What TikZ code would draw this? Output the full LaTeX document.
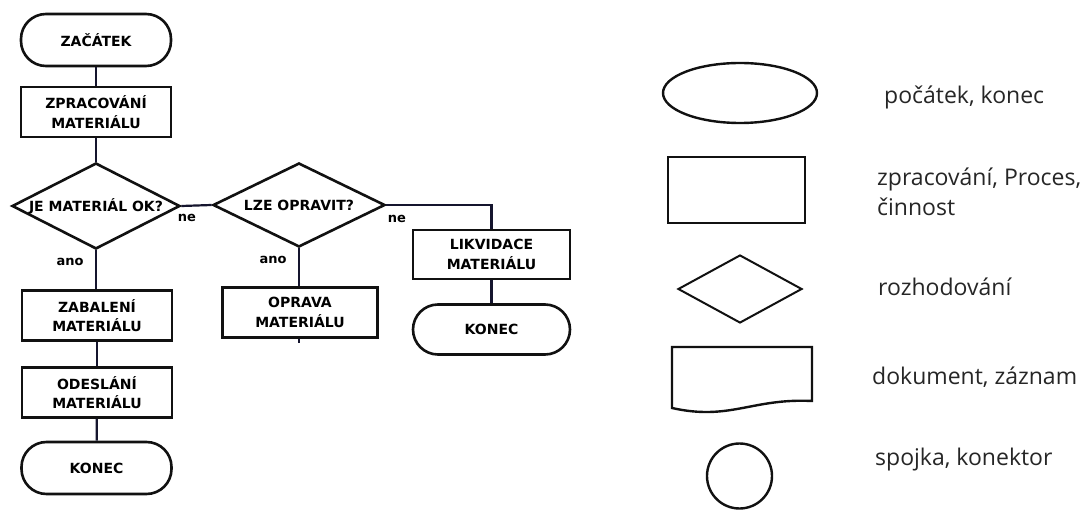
\documentclass[tikz,border=0pt]{standalone}
\usepackage{fontspec}
\setmainfont{DejaVu Sans}
\newfontfamily\legendfont{Open Sans}
\usetikzlibrary{shapes.geometric}
\definecolor{ink}{HTML}{111111}
\definecolor{wire}{HTML}{15152E}
\tikzset{
  chart/.style={font=\fontsize{14}{19.5}\selectfont\bfseries},
  box/.style={draw=ink, line width=2.6pt, minimum width=150pt, minimum height=50pt,
    inner sep=0pt, align=center, chart},
  term/.style={box, rounded corners=25pt, minimum height=52pt},
  decide/.style={draw=ink, line width=2.6pt, diamond, inner sep=0pt,
    minimum width=168pt, minimum height=86pt},
  wirestyle/.style={draw=wire, line width=2.2pt},
  lbl/.style={font=\fontsize{13}{15}\selectfont\bfseries, inner sep=0pt},
  legshape/.style={draw=ink, line width=2.4pt},
  legtext/.style={anchor=west, inner sep=0pt, align=left,
    font=\legendfont\fontsize{23}{30}\selectfont, text=black!85}
}
\begin{document}
\begin{tikzpicture}[x=1pt, y=-1pt]
\useasboundingbox[fill=white] (0,0) rectangle (1089,510);

% main column
\node[term] (start) at (96,40) {ZAČÁTEK};
\node[box] (proc) at (96,112) {ZPRACOVÁNÍ\\MATERIÁLU};
\node[decide] (ok) at (96,206) {};
\node[chart] (okq) at (ok.center) {JE MATERIÁL OK?};
\node[box] (pack) at (97,315.5) {ZABALENÍ\\MATERIÁLU};
\node[box] (send) at (97,392.5) {ODESLÁNÍ\\MATERIÁLU};
\node[term] (end1) at (96.5,468) {KONEC};

% repair branch
\node[decide, minimum width=172pt, minimum height=84pt] (fix) at (299,205) {};
\node[chart] (fixq) at (fix.center) {LZE OPRAVIT?};
\node[box, minimum width=155pt] (repair) at (300,312.5) {OPRAVA\\MATERIÁLU};
\coordinate (tail) at (299,343);

% disposal branch
\node[box, minimum width=157pt, minimum height=49pt] (scrap) at (491.5,254.5) {LIKVIDACE\\MATERIÁLU};
\node[term, minimum width=157pt, minimum height=50pt] (end2) at (491.5,329.5) {KONEC};
\coordinate (corner) at (scrap.north |- fix.east);

% connectors
\path[wirestyle] (start) -- (proc);
\path[wirestyle] (proc) -- (ok);
\path[wirestyle] (ok.south) -- (pack.north -| ok.south);
\path[wirestyle] (pack) -- (send);
\path[wirestyle] (send) -- (end1);
\path[wirestyle] (ok.east) -- (fix.west);
\path[wirestyle] (fix.south) -- (repair.north -| fix.south);
\path[wirestyle] (repair.south -| fix.south) -- (tail);
\path[wirestyle] (fix.east) -- (corner) -- (scrap.north);
\path[wirestyle] (scrap) -- (end2);

% branch labels
\node[lbl] (ne1) at (187,218) {ne};
\node[lbl] (ano1) at (70,262) {ano};
\node[lbl] (ne2) at (397,219) {ne};
\node[lbl] (ano2) at (273,260) {ano};

% legend
\node[legshape, ellipse, minimum width=154pt, minimum height=60pt, inner sep=0pt] (lterm) at (740,93) {};
\node[legtext] (tterm) at (884,97) {počátek, konec};
\node[legshape, rectangle, minimum width=137pt, minimum height=66pt, inner sep=0pt] (lproc) at (736.5,190) {};
\node[legtext] (tproc) at (877,192) {zpracování, Proces,\\činnost};
\node[legshape, line width=2pt, diamond, minimum width=124pt, minimum height=68pt, inner sep=0pt] (ldec) at (740,289) {};
\node[legtext] (tdec) at (878,287) {rozhodování};
\draw[legshape] (672,347) -- (812,347) -- (812,401)
  .. controls (752,398) and (730,421) .. (672,408) -- cycle;
\node[legtext] (tdoc) at (872,377) {dokument, záznam};
\node[legshape, circle, minimum size=65pt, inner sep=0pt] (lcon) at (739.5,476) {};
\node[legtext] (tcon) at (875,460) {spojka, konektor};
\end{tikzpicture}
\end{document}
